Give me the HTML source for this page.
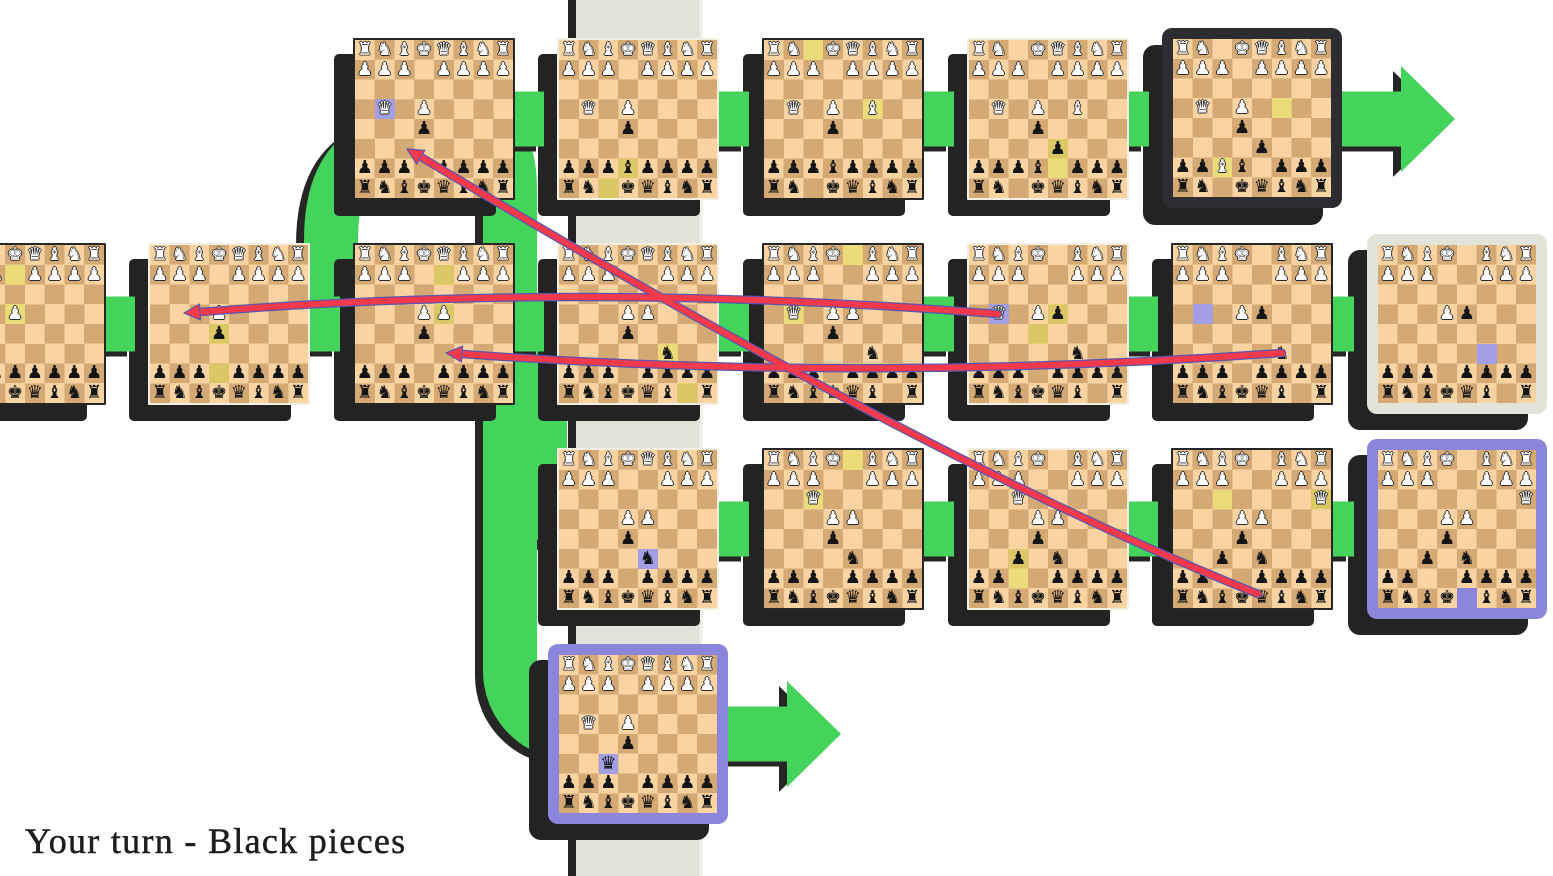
<!DOCTYPE html>
<html><head><meta charset="utf-8">
<style>
html,body{margin:0;padding:0}
body{width:1553px;height:876px;overflow:hidden;background:#fff;position:relative}
svg{position:absolute;left:0;top:0}
.bd{position:absolute;box-sizing:content-box;width:158px;height:158px;border:2px solid #262626;border-radius:1px;display:grid;grid-template-columns:repeat(8,1fr);grid-template-rows:repeat(8,1fr);background:repeating-conic-gradient(#d4a973 0 25%,#f9d4a2 0 50%) 0 0/39.5px 39.5px}
.l{border-color:#f3efe2}
.t{border-width:11px;border-radius:10px;border-color:#2c2c31}
.tg{border-color:#e2e3da}
.tp{border-color:#8b85dc}
.bd>*{display:flex;align-items:center;justify-content:center;font:18px/1 "DejaVu Sans",sans-serif;text-decoration:none;font-style:normal;font-weight:normal;overflow:hidden}
.bd>b{color:#fff;text-shadow:1px 0 #2a2a2a,-1px 0 #2a2a2a,0 1px #2a2a2a,0 -1px #2a2a2a}
.bd>i{color:#151515}
.bd>.e{grid-column:1/-1}
.bd>.y{background:rgba(224,226,88,.55)}
.bd>.p{background:#a49fe5}
.bd>.q{background:#8b85dc}
.txt{position:absolute;left:25px;top:823px;font:36px/36px "Liberation Serif",serif;letter-spacing:1.3px;color:#1e1e1e;white-space:nowrap;-webkit-text-stroke:0.5px #1e1e1e}
</style></head><body>

<svg width="1553" height="876">
<rect x="568" y="0" width="8" height="876" fill="#242424"/>
<rect x="576" y="0" width="124" height="876" fill="#e1e2da"/>
<rect x="700" y="0" width="3" height="876" fill="#f1f1ea"/>
<g fill="none" stroke="#262626" stroke-width="54" transform="translate(-8,5)">
<path d="M 200 324 L 290 324 C 322 324 331 310 331 280 L 331 240 C 331 190 345 150 400 140"/>
<path d="M 420 118 C 490 118 510 135 510 190 L 510 671 A 62 62 0 0 0 572 733 L 620 733"/>
<path d="M 420 324 C 500 324 540 345 540 400 L 540 480 C 540 515 555 529 600 529"/>
</g>
<g fill="none" stroke="#44d45c" stroke-width="54">
<path d="M 200 324 L 290 324 C 322 324 331 310 331 280 L 331 240 C 331 190 345 150 400 140"/>
<path d="M 420 118 C 490 118 510 135 510 190 L 510 671 A 62 62 0 0 0 572 733 L 620 733"/>
<path d="M 420 324 C 500 324 540 345 540 400 L 540 480 C 540 515 555 529 600 529"/>
</g>
<g fill="#232323">
<rect x="334" y="54" width="162" height="162" rx="5"/>
<rect x="538" y="54" width="162" height="162" rx="5"/>
<rect x="743" y="54" width="162" height="162" rx="5"/>
<rect x="948" y="54" width="162" height="162" rx="5"/>
<rect x="1143" y="45" width="180" height="180" rx="12"/>
<rect x="-75" y="259" width="162" height="162" rx="5"/>
<rect x="129" y="259" width="162" height="162" rx="5"/>
<rect x="334" y="259" width="162" height="162" rx="5"/>
<rect x="538" y="259" width="162" height="162" rx="5"/>
<rect x="743" y="259" width="162" height="162" rx="5"/>
<rect x="948" y="259" width="162" height="162" rx="5"/>
<rect x="1152" y="259" width="162" height="162" rx="5"/>
<rect x="1348" y="250" width="180" height="180" rx="12"/>
<rect x="538" y="464" width="162" height="162" rx="5"/>
<rect x="743" y="464" width="162" height="162" rx="5"/>
<rect x="948" y="464" width="162" height="162" rx="5"/>
<rect x="1152" y="464" width="162" height="162" rx="5"/>
<rect x="1348" y="455" width="180" height="180" rx="12"/>
<rect x="529" y="660" width="180" height="180" rx="12"/>
</g>
<g fill="#262626" transform="translate(-8,5)">
<rect x="453" y="91.5" width="91" height="55"/>
<rect x="657" y="91.5" width="92" height="55"/>
<rect x="862" y="91.5" width="92" height="55"/>
<rect x="1067" y="91.5" width="82" height="55"/>
<rect x="1271" y="91.5" width="131" height="55"/>
<polygon points="1401,66 1455,119 1401,172"/>
<rect x="44" y="296.5" width="91" height="55"/>
<rect x="248" y="296.5" width="92" height="55"/>
<rect x="453" y="296.5" width="91" height="55"/>
<rect x="657" y="296.5" width="92" height="55"/>
<rect x="862" y="296.5" width="92" height="55"/>
<rect x="1067" y="296.5" width="91" height="55"/>
<rect x="1271" y="296.5" width="83" height="55"/>
<rect x="657" y="501.5" width="92" height="55"/>
<rect x="862" y="501.5" width="92" height="55"/>
<rect x="1067" y="501.5" width="91" height="55"/>
<rect x="1271" y="501.5" width="83" height="55"/>
<rect x="657" y="706.5" width="131" height="55"/>
<polygon points="787,681 841,734 787,787"/>
</g>
<g fill="#44d45c">
<rect x="453" y="91.5" width="91" height="55"/>
<rect x="657" y="91.5" width="92" height="55"/>
<rect x="862" y="91.5" width="92" height="55"/>
<rect x="1067" y="91.5" width="82" height="55"/>
<rect x="1271" y="91.5" width="131" height="55"/>
<polygon points="1401,66 1455,119 1401,172"/>
<rect x="44" y="296.5" width="91" height="55"/>
<rect x="248" y="296.5" width="92" height="55"/>
<rect x="453" y="296.5" width="91" height="55"/>
<rect x="657" y="296.5" width="92" height="55"/>
<rect x="862" y="296.5" width="92" height="55"/>
<rect x="1067" y="296.5" width="91" height="55"/>
<rect x="1271" y="296.5" width="83" height="55"/>
<rect x="657" y="501.5" width="92" height="55"/>
<rect x="862" y="501.5" width="92" height="55"/>
<rect x="1067" y="501.5" width="91" height="55"/>
<rect x="1271" y="501.5" width="83" height="55"/>
<rect x="657" y="706.5" width="131" height="55"/>
<polygon points="787,681 841,734 787,787"/>
</g>
</svg>

<!-- Row 1 (top) -->
<div class="bd" style="left:353px;top:38px">
<b>♜</b><b>♞</b><b>♝</b><b>♚</b><b>♛</b><b>♝</b><b>♞</b><b>♜</b>
<b>♟</b><b>♟</b><b>♟</b><u></u><b>♟</b><b>♟</b><b>♟</b><b>♟</b>
<u class="e"></u>
<u></u><b class="p">♛</b><u></u><b>♟</b><u></u><u></u><u></u><u></u>
<u></u><u></u><u></u><i>♟</i><u></u><u></u><u></u><u></u>
<u class="e"></u>
<i>♟</i><i>♟</i><i>♟</i><u></u><i>♟</i><i>♟</i><i>♟</i><i>♟</i>
<i>♜</i><i>♞</i><i>♝</i><i>♚</i><i>♛</i><i>♝</i><i>♞</i><i>♜</i>
</div>
<div class="bd l" style="left:557px;top:38px">
<b>♜</b><b>♞</b><b>♝</b><b>♚</b><b>♛</b><b>♝</b><b>♞</b><b>♜</b>
<b>♟</b><b>♟</b><b>♟</b><u></u><b>♟</b><b>♟</b><b>♟</b><b>♟</b>
<u class="e"></u>
<u></u><b>♛</b><u></u><b>♟</b><u></u><u></u><u></u><u></u>
<u></u><u></u><u></u><i>♟</i><u></u><u></u><u></u><u></u>
<u class="e"></u>
<i>♟</i><i>♟</i><i>♟</i><i class="y">♝</i><i>♟</i><i>♟</i><i>♟</i><i>♟</i>
<i>♜</i><i>♞</i><u class="y"></u><i>♚</i><i>♛</i><i>♝</i><i>♞</i><i>♜</i>
</div>
<div class="bd" style="left:762px;top:38px">
<b>♜</b><b>♞</b><u class="y"></u><b>♚</b><b>♛</b><b>♝</b><b>♞</b><b>♜</b>
<b>♟</b><b>♟</b><b>♟</b><u></u><b>♟</b><b>♟</b><b>♟</b><b>♟</b>
<u class="e"></u>
<u></u><b>♛</b><u></u><b>♟</b><u></u><b class="y">♝</b><u></u><u></u>
<u></u><u></u><u></u><i>♟</i><u></u><u></u><u></u><u></u>
<u class="e"></u>
<i>♟</i><i>♟</i><i>♟</i><i>♝</i><i>♟</i><i>♟</i><i>♟</i><i>♟</i>
<i>♜</i><i>♞</i><u></u><i>♚</i><i>♛</i><i>♝</i><i>♞</i><i>♜</i>
</div>
<div class="bd l" style="left:967px;top:38px">
<b>♜</b><b>♞</b><u></u><b>♚</b><b>♛</b><b>♝</b><b>♞</b><b>♜</b>
<b>♟</b><b>♟</b><b>♟</b><u></u><b>♟</b><b>♟</b><b>♟</b><b>♟</b>
<u class="e"></u>
<u></u><b>♛</b><u></u><b>♟</b><u></u><b>♝</b><u></u><u></u>
<u></u><u></u><u></u><i>♟</i><u></u><u></u><u></u><u></u>
<u></u><u></u><u></u><u></u><i class="y">♟</i><u></u><u></u><u></u>
<i>♟</i><i>♟</i><i>♟</i><i>♝</i><u class="y"></u><i>♟</i><i>♟</i><i>♟</i>
<i>♜</i><i>♞</i><u></u><i>♚</i><i>♛</i><i>♝</i><i>♞</i><i>♜</i>
</div>
<div class="bd t" style="left:1162px;top:28px">
<b>♜</b><b>♞</b><u></u><b>♚</b><b>♛</b><b>♝</b><b>♞</b><b>♜</b>
<b>♟</b><b>♟</b><b>♟</b><u></u><b>♟</b><b>♟</b><b>♟</b><b>♟</b>
<u class="e"></u>
<u></u><b>♛</b><u></u><b>♟</b><u></u><u class="y"></u><u></u><u></u>
<u></u><u></u><u></u><i>♟</i><u></u><u></u><u></u><u></u>
<u></u><u></u><u></u><u></u><i>♟</i><u></u><u></u><u></u>
<i>♟</i><i>♟</i><b class="y">♝</b><i>♝</i><u></u><i>♟</i><i>♟</i><i>♟</i>
<i>♜</i><i>♞</i><u></u><i>♚</i><i>♛</i><i>♝</i><i>♞</i><i>♜</i>
</div>

<!-- Row 2 -->
<div class="bd" style="left:-56px;top:243px">
<b>♜</b><b>♞</b><b>♝</b><b>♚</b><b>♛</b><b>♝</b><b>♞</b><b>♜</b>
<b>♟</b><b>♟</b><b>♟</b><u class="y"></u><b>♟</b><b>♟</b><b>♟</b><b>♟</b>
<u class="e"></u>
<u></u><u></u><u></u><b class="y">♟</b><u></u><u></u><u></u><u></u>
<u class="e"></u>
<u class="e"></u>
<i>♟</i><i>♟</i><i>♟</i><i>♟</i><i>♟</i><i>♟</i><i>♟</i><i>♟</i>
<i>♜</i><i>♞</i><i>♝</i><i>♚</i><i>♛</i><i>♝</i><i>♞</i><i>♜</i>
</div>
<div class="bd l" style="left:148px;top:243px">
<b>♜</b><b>♞</b><b>♝</b><b>♚</b><b>♛</b><b>♝</b><b>♞</b><b>♜</b>
<b>♟</b><b>♟</b><b>♟</b><u></u><b>♟</b><b>♟</b><b>♟</b><b>♟</b>
<u class="e"></u>
<u></u><u></u><u></u><b>♟</b><u></u><u></u><u></u><u></u>
<u></u><u></u><u></u><i class="y">♟</i><u></u><u></u><u></u><u></u>
<u class="e"></u>
<i>♟</i><i>♟</i><i>♟</i><u class="y"></u><i>♟</i><i>♟</i><i>♟</i><i>♟</i>
<i>♜</i><i>♞</i><i>♝</i><i>♚</i><i>♛</i><i>♝</i><i>♞</i><i>♜</i>
</div>
<div class="bd" style="left:353px;top:243px">
<b>♜</b><b>♞</b><b>♝</b><b>♚</b><b>♛</b><b>♝</b><b>♞</b><b>♜</b>
<b>♟</b><b>♟</b><b>♟</b><u></u><u class="y"></u><b>♟</b><b>♟</b><b>♟</b>
<u class="e"></u>
<u></u><u></u><u></u><b>♟</b><b class="y">♟</b><u></u><u></u><u></u>
<u></u><u></u><u></u><i>♟</i><u></u><u></u><u></u><u></u>
<u class="e"></u>
<i>♟</i><i>♟</i><i>♟</i><u></u><i>♟</i><i>♟</i><i>♟</i><i>♟</i>
<i>♜</i><i>♞</i><i>♝</i><i>♚</i><i>♛</i><i>♝</i><i>♞</i><i>♜</i>
</div>
<div class="bd l" style="left:557px;top:243px">
<b>♜</b><b>♞</b><b>♝</b><b>♚</b><b>♛</b><b>♝</b><b>♞</b><b>♜</b>
<b>♟</b><b>♟</b><b>♟</b><u></u><u></u><b>♟</b><b>♟</b><b>♟</b>
<u class="e"></u>
<u></u><u></u><u></u><b>♟</b><b>♟</b><u></u><u></u><u></u>
<u></u><u></u><u></u><i>♟</i><u></u><u></u><u></u><u></u>
<u></u><u></u><u></u><u></u><u></u><i class="y">♞</i><u></u><u></u>
<i>♟</i><i>♟</i><i>♟</i><u></u><i>♟</i><i>♟</i><i>♟</i><i>♟</i>
<i>♜</i><i>♞</i><i>♝</i><i>♚</i><i>♛</i><i>♝</i><u class="y"></u><i>♜</i>
</div>
<div class="bd" style="left:762px;top:243px">
<b>♜</b><b>♞</b><b>♝</b><b>♚</b><u class="y"></u><b>♝</b><b>♞</b><b>♜</b>
<b>♟</b><b>♟</b><b>♟</b><u></u><u></u><b>♟</b><b>♟</b><b>♟</b>
<u class="e"></u>
<u></u><b class="y">♛</b><u></u><b>♟</b><b>♟</b><u></u><u></u><u></u>
<u></u><u></u><u></u><i>♟</i><u></u><u></u><u></u><u></u>
<u></u><u></u><u></u><u></u><u></u><i>♞</i><u></u><u></u>
<i>♟</i><i>♟</i><i>♟</i><u></u><i>♟</i><i>♟</i><i>♟</i><i>♟</i>
<i>♜</i><i>♞</i><i>♝</i><i>♚</i><i>♛</i><i>♝</i><u></u><i>♜</i>
</div>
<div class="bd l" style="left:967px;top:243px">
<b>♜</b><b>♞</b><b>♝</b><b>♚</b><u></u><b>♝</b><b>♞</b><b>♜</b>
<b>♟</b><b>♟</b><b>♟</b><u></u><u></u><b>♟</b><b>♟</b><b>♟</b>
<u class="e"></u>
<u></u><b class="p">♛</b><u></u><b>♟</b><i class="y">♟</i><u></u><u></u><u></u>
<u></u><u></u><u></u><u class="y"></u><u></u><u></u><u></u><u></u>
<u></u><u></u><u></u><u></u><u></u><i>♞</i><u></u><u></u>
<i>♟</i><i>♟</i><i>♟</i><u></u><i>♟</i><i>♟</i><i>♟</i><i>♟</i>
<i>♜</i><i>♞</i><i>♝</i><i>♚</i><i>♛</i><i>♝</i><u></u><i>♜</i>
</div>
<div class="bd" style="left:1171px;top:243px">
<b>♜</b><b>♞</b><b>♝</b><b>♚</b><u></u><b>♝</b><b>♞</b><b>♜</b>
<b>♟</b><b>♟</b><b>♟</b><u></u><u></u><b>♟</b><b>♟</b><b>♟</b>
<u class="e"></u>
<u></u><u class="p"></u><u></u><b>♟</b><i>♟</i><u></u><u></u><u></u>
<u class="e"></u>
<u></u><u></u><u></u><u></u><u></u><i>♞</i><u></u><u></u>
<i>♟</i><i>♟</i><i>♟</i><u></u><i>♟</i><i>♟</i><i>♟</i><i>♟</i>
<i>♜</i><i>♞</i><i>♝</i><i>♚</i><i>♛</i><i>♝</i><u></u><i>♜</i>
</div>
<div class="bd t tg" style="left:1367px;top:234px">
<b>♜</b><b>♞</b><b>♝</b><b>♚</b><u></u><b>♝</b><b>♞</b><b>♜</b>
<b>♟</b><b>♟</b><b>♟</b><u></u><u></u><b>♟</b><b>♟</b><b>♟</b>
<u class="e"></u>
<u></u><u></u><u></u><b>♟</b><i>♟</i><u></u><u></u><u></u>
<u class="e"></u>
<u></u><u></u><u></u><u></u><u></u><u class="p"></u><u></u><u></u>
<i>♟</i><i>♟</i><i>♟</i><u></u><i>♟</i><i>♟</i><i>♟</i><i>♟</i>
<i>♜</i><i>♞</i><i>♝</i><i>♚</i><i>♛</i><i>♝</i><u></u><i>♜</i>
</div>

<!-- Row 3 -->
<div class="bd l" style="left:557px;top:448px">
<b>♜</b><b>♞</b><b>♝</b><b>♚</b><b>♛</b><b>♝</b><b>♞</b><b>♜</b>
<b>♟</b><b>♟</b><b>♟</b><u></u><u></u><b>♟</b><b>♟</b><b>♟</b>
<u class="e"></u>
<u></u><u></u><u></u><b>♟</b><b>♟</b><u></u><u></u><u></u>
<u></u><u></u><u></u><i>♟</i><u></u><u></u><u></u><u></u>
<u></u><u></u><u></u><u></u><i class="p">♞</i><u></u><u></u><u></u>
<i>♟</i><i>♟</i><i>♟</i><u></u><i>♟</i><i>♟</i><i>♟</i><i>♟</i>
<i>♜</i><i>♞</i><i>♝</i><i>♚</i><i>♛</i><i>♝</i><i>♞</i><i>♜</i>
</div>
<div class="bd" style="left:762px;top:448px">
<b>♜</b><b>♞</b><b>♝</b><b>♚</b><u class="y"></u><b>♝</b><b>♞</b><b>♜</b>
<b>♟</b><b>♟</b><b>♟</b><u></u><u></u><b>♟</b><b>♟</b><b>♟</b>
<u></u><u></u><b class="y">♛</b><u></u><u></u><u></u><u></u><u></u>
<u></u><u></u><u></u><b>♟</b><b>♟</b><u></u><u></u><u></u>
<u></u><u></u><u></u><i>♟</i><u></u><u></u><u></u><u></u>
<u></u><u></u><u></u><u></u><i>♞</i><u></u><u></u><u></u>
<i>♟</i><i>♟</i><i>♟</i><u></u><i>♟</i><i>♟</i><i>♟</i><i>♟</i>
<i>♜</i><i>♞</i><i>♝</i><i>♚</i><i>♛</i><i>♝</i><i>♞</i><i>♜</i>
</div>
<div class="bd l" style="left:967px;top:448px">
<b>♜</b><b>♞</b><b>♝</b><b>♚</b><u></u><b>♝</b><b>♞</b><b>♜</b>
<b>♟</b><b>♟</b><b>♟</b><u></u><u></u><b>♟</b><b>♟</b><b>♟</b>
<u></u><u></u><b>♛</b><u></u><u></u><u></u><u></u><u></u>
<u></u><u></u><u></u><b>♟</b><b>♟</b><u></u><u></u><u></u>
<u></u><u></u><u></u><i>♟</i><u></u><u></u><u></u><u></u>
<u></u><u></u><i class="y">♟</i><u></u><i>♞</i><u></u><u></u><u></u>
<i>♟</i><i>♟</i><u class="y"></u><u></u><i>♟</i><i>♟</i><i>♟</i><i>♟</i>
<i>♜</i><i>♞</i><i>♝</i><i>♚</i><i>♛</i><i>♝</i><i>♞</i><i>♜</i>
</div>
<div class="bd" style="left:1171px;top:448px">
<b>♜</b><b>♞</b><b>♝</b><b>♚</b><u></u><b>♝</b><b>♞</b><b>♜</b>
<b>♟</b><b>♟</b><b>♟</b><u></u><u></u><b>♟</b><b>♟</b><b>♟</b>
<u></u><u></u><u class="y"></u><u></u><u></u><u></u><u></u><b class="y">♛</b>
<u></u><u></u><u></u><b>♟</b><b>♟</b><u></u><u></u><u></u>
<u></u><u></u><u></u><i>♟</i><u></u><u></u><u></u><u></u>
<u></u><u></u><i>♟</i><u></u><i>♞</i><u></u><u></u><u></u>
<i>♟</i><i>♟</i><u></u><u></u><i>♟</i><i>♟</i><i>♟</i><i>♟</i>
<i>♜</i><i>♞</i><i>♝</i><i>♚</i><i>♛</i><i>♝</i><i>♞</i><i>♜</i>
</div>
<div class="bd t tp" style="left:1367px;top:439px">
<b>♜</b><b>♞</b><b>♝</b><b>♚</b><u></u><b>♝</b><b>♞</b><b>♜</b>
<b>♟</b><b>♟</b><b>♟</b><u></u><u></u><b>♟</b><b>♟</b><b>♟</b>
<u></u><u></u><u></u><u></u><u></u><u></u><u></u><b>♛</b>
<u></u><u></u><u></u><b>♟</b><b>♟</b><u></u><u></u><u></u>
<u></u><u></u><u></u><i>♟</i><u></u><u></u><u></u><u></u>
<u></u><u></u><i>♟</i><u></u><i>♞</i><u></u><u></u><u></u>
<i>♟</i><i>♟</i><u></u><u></u><i>♟</i><i>♟</i><i>♟</i><i>♟</i>
<i>♜</i><i>♞</i><i>♝</i><i>♚</i><u class="q"></u><i>♝</i><i>♞</i><i>♜</i>
</div>

<!-- Row 4 -->
<div class="bd t tp" style="left:548px;top:644px">
<b>♜</b><b>♞</b><b>♝</b><b>♚</b><b>♛</b><b>♝</b><b>♞</b><b>♜</b>
<b>♟</b><b>♟</b><b>♟</b><u></u><b>♟</b><b>♟</b><b>♟</b><b>♟</b>
<u class="e"></u>
<u></u><b>♛</b><u></u><b>♟</b><u></u><u></u><u></u><u></u>
<u></u><u></u><u></u><i>♟</i><u></u><u></u><u></u><u></u>
<u></u><u></u><i class="p">♛</i><u></u><u></u><u></u><u></u><u></u>
<i>♟</i><i>♟</i><i>♟</i><u></u><i>♟</i><i>♟</i><i>♟</i><i>♟</i>
<i>♜</i><i>♞</i><i>♝</i><i>♚</i><i>♛</i><i>♝</i><i>♞</i><i>♜</i>
</div>

<svg width="1553" height="876">
<g fill="none" stroke-linecap="round">
<path d="M 1258 594 Q 930 463 421 157" stroke="#5b55b0" stroke-width="8.5"/>
<path d="M 998 314 Q 590 281 200 312" stroke="#5b55b0" stroke-width="8.5"/>
<path d="M 1282 353 Q 860 383 462 354" stroke="#5b55b0" stroke-width="8.5"/>
<path d="M 1258 594 Q 930 463 421 157" stroke="#f23a4c" stroke-width="6"/>
<path d="M 998 314 Q 590 281 200 312" stroke="#f23a4c" stroke-width="6"/>
<path d="M 1282 353 Q 860 383 462 354" stroke="#f23a4c" stroke-width="6"/>
</g>
<g fill="#f23a4c" stroke="#5b55b0" stroke-width="1.2" stroke-linejoin="round">
<polygon points="407,149 424.8,150.3 416.6,164.1"/>
<polygon points="184,313 199.4,304 200.6,320"/>
<polygon points="446,353 462.6,346 461.4,362"/>
</g>
</svg>

<div class="txt">Your turn - Black pieces</div>
</body></html>
